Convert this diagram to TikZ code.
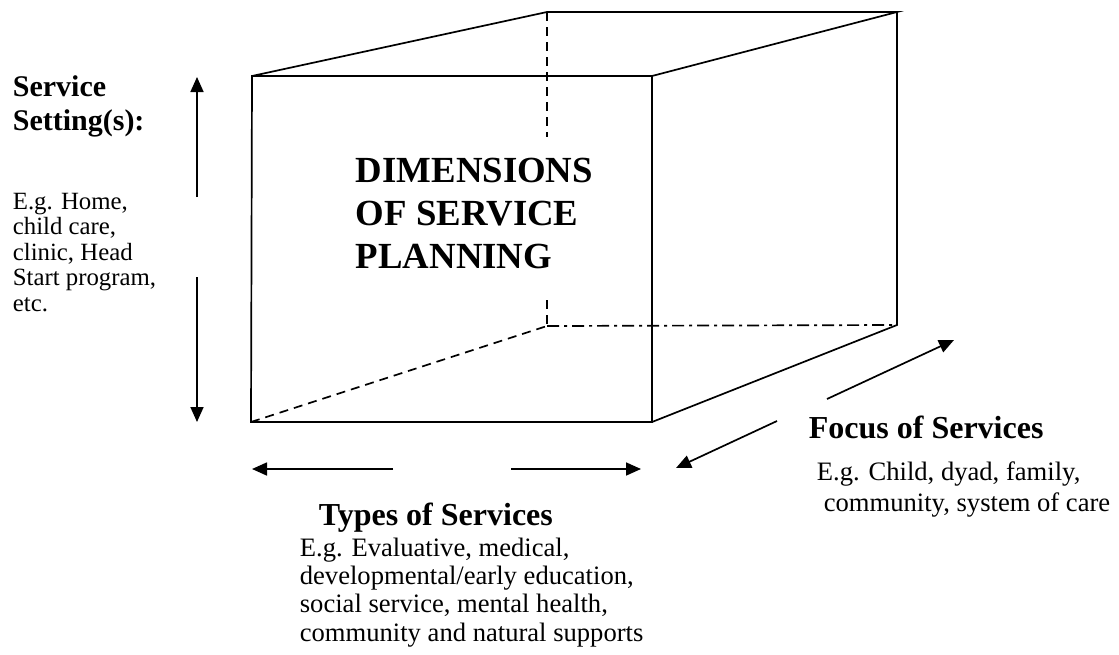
\documentclass[tikz,border=0pt]{standalone}
\usepackage{fontspec}
\setmainfont{Liberation Serif}
\usetikzlibrary{arrows.meta}

\begin{document}
\begin{tikzpicture}[x=1pt,y=-1pt,>={Triangle[length=15pt,width=13pt]},line width=1.7pt,
    head/.style={inner sep=0pt,anchor=base west,align=left,font=\bfseries\fontsize{32}{34}\selectfont},
    note/.style={inner sep=0pt,anchor=base west,align=left,font=\fontsize{26.6}{28.3}\selectfont},
    hidden/.style={dash pattern=on 9pt off 6pt},
    hiddenb/.style={dash pattern=on 12pt off 5pt on 3pt off 5pt}]
    \useasboundingbox (0,0) rectangle (1119,654);

    % corners of the box
    \coordinate (ftl) at (252,76);
    \coordinate (ftr) at (652,76);
    \coordinate (fbr) at (652,422);
    \coordinate (fbl) at (251,422);
    \coordinate (btl) at (547,12);
    \coordinate (btr) at (897,12);
    \coordinate (bbr) at (897,325);
    \coordinate (bbl) at (547,326);

    \draw (ftl) -- (ftr) -- (fbr) -- (fbl) -- cycle;
    \draw (ftl) -- (btl) -- (btr) -- (ftr);
    \draw (btr) -- (bbr) -- (fbr);

    % hidden edges
    \coordinate (gap1) at (547,137);
    \coordinate (gap2) at (547,300);
    \draw[hidden] (btl) -- (gap1);
    \draw[hidden] (gap2) -- (bbl);
    \draw[hidden] (fbl) -- (bbl);
    \draw[hiddenb] (bbl) -- (bbr);

    % base anchor of a multi-line node sits on its last line
    \node (dim) [inner sep=0pt,anchor=base west,align=left,font=\bfseries\fontsize{36.8}{43}\selectfont] at (355,268)
        {DIMENSIONS\\OF SERVICE\\PLANNING};

    % setting
    \node (set) [head,font=\bfseries\fontsize{30}{34}\selectfont] at (12,130) {Service\\Setting(s):};
    \node (setx) [note,font=\fontsize{24.8}{25.5}\selectfont] at (12,311)
        {E.g. Home,\\child care,\\clinic, Head\\Start program,\\etc.};
    \coordinate (s1) at (197,197);
    \coordinate (s2) at (197,77);
    \coordinate (s3) at (197,277);
    \coordinate (s4) at (197,422);
    \draw[->] (s1) -- (s2);
    \draw[->] (s3) -- (s4);

    % types
    \node (typ) [head] at (318,525) {Types of Services};
    \node (typx) [note] at (299,641)
        {E.g. Evaluative, medical,\\developmental/early education,\\social service, mental health,\\community and natural supports};
    \coordinate (t1) at (393,469);
    \coordinate (t2) at (252,469);
    \coordinate (t3) at (511,469);
    \coordinate (t4) at (641,469);
    \draw[->] (t1) -- (t2);
    \draw[->] (t3) -- (t4);

    % focus
    \node (foc) [head] at (808,438) {Focus of Services};
    \node (focx) [note,font=\fontsize{26.6}{31}\selectfont] at (816,511)
        {E.g. Child, dyad, family,\\\hspace*{7pt}community, system of care};
    \coordinate (f1) at (777,421);
    \coordinate (f2) at (676,468);
    \coordinate (f3) at (827,399);
    \coordinate (f4) at (954,340);
    \draw[->] (f1) -- (f2);
    \draw[->] (f3) -- (f4);
\end{tikzpicture}
\end{document}
